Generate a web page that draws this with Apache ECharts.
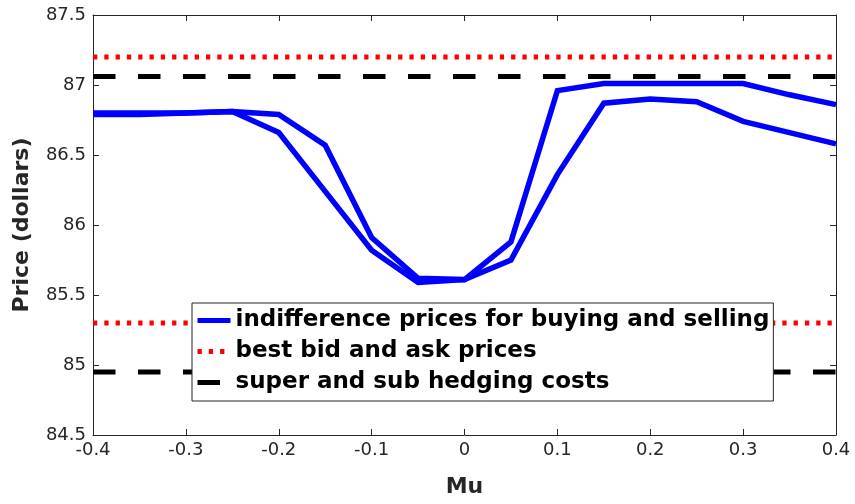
<!DOCTYPE html>
<html><head><meta charset="utf-8">
<script src="https://cdn.jsdelivr.net/npm/echarts@6/dist/echarts.min.js"></script>
<style>html,body{margin:0;padding:0;background:#fff}#c{width:855px;height:504px}</style>
</head><body><div id="c"></div>
<script>
// ---- data ----
const mu = [-0.4, -0.35, -0.3, -0.25, -0.2, -0.15, -0.1, -0.05, 0, 0.05, 0.1, 0.15, 0.2, 0.25, 0.3, 0.35, 0.4];
const priceSelling = [86.80, 86.80, 86.80, 86.81, 86.79, 86.57, 85.91, 85.62, 85.61, 85.88, 86.96, 87.01, 87.01, 87.01, 87.01, 86.93, 86.86];
const priceBuying  = [86.79, 86.79, 86.80, 86.81, 86.66, 86.24, 85.82, 85.59, 85.61, 85.75, 86.36, 86.87, 86.90, 86.88, 86.74, 86.66, 86.58];
const bidAsk = [85.3, 87.2];
const hedging = [84.95, 87.06];
const xTicks = [-0.4, -0.3, -0.2, -0.1, 0, 0.1, 0.2, 0.3, 0.4];
const yTicks = [84.5, 85, 85.5, 86, 86.5, 87, 87.5];
const xStep = 0.1;
const yStep = 0.5;
const names = ['indifference prices for buying and selling', 'best bid and ask prices', 'super and sub hedging costs'];

const xMin = xTicks[0], xMax = xTicks[xTicks.length - 1];
const yMin = yTicks[0], yMax = yTicks[yTicks.length - 1];
const axisCol = '#262626';
const dotted = [4.3, 7];
const dashed = [22.5, 22.5];
const fmt = v => String(parseFloat(Number(v).toFixed(2)));

const blue = (vals) => ({
  name: names[0], type: 'line', symbol: 'none', z: 2,
  data: mu.map((m, i) => [m, vals[i]]),
  lineStyle: { color: '#0000ff', width: 5.5, join: 'miter' }, itemStyle: { color: '#0000ff' }
});
const hline = (v, name, color, type) => ({
  name, type: 'line', symbol: 'none', z: 3,
  data: [[xMin, v], [xMax, v]],
  lineStyle: { color, width: 5, type }, itemStyle: { color }
});

const series = [blue(priceSelling), blue(priceBuying)];
bidAsk.forEach(v => series.push(hline(v, names[1], '#ff0000', dotted)));
hedging.forEach(v => series.push(hline(v, names[2], '#000000', dashed)));

const tickFont = { fontFamily: 'DejaVu Sans', fontSize: 18, color: axisCol };
const nameFont = { fontFamily: 'DejaVu Sans', fontSize: 22, fontWeight: 'bold', color: axisCol };
const xBase = {
  type: 'value', min: xMin, max: xMax, interval: xStep,
  axisLine: { show: true, onZero: false, lineStyle: { color: axisCol, width: 1 } },
  axisTick: { show: true, inside: true, length: 6, lineStyle: { color: axisCol } },
  splitLine: { show: false }
};
const yBase = {
  type: 'value', min: yMin, max: yMax, interval: yStep,
  axisLine: { show: true, onZero: false, lineStyle: { color: axisCol, width: 1 } },
  axisTick: { show: true, inside: true, length: 6, lineStyle: { color: axisCol } },
  splitLine: { show: false }
};

const chart = echarts.init(document.getElementById('c'), null, { renderer: 'canvas' });
chart.setOption({
  animation: false,
  backgroundColor: '#fff',
  grid: { left: 93, right: 19, top: 15, bottom: 69, containLabel: false, outerBoundsMode: 'none' },
  xAxis: [
    Object.assign({}, xBase, { position: 'bottom', name: 'Mu', nameLocation: 'middle', nameGap: 41,
      nameTextStyle: nameFont, axisLabel: Object.assign({ margin: 6, formatter: fmt }, tickFont) }),
    Object.assign({}, xBase, { position: 'top', axisLabel: { show: false } })
  ],
  yAxis: [
    Object.assign({}, yBase, { position: 'left', name: 'Price (dollars)', nameLocation: 'middle', nameGap: 60,
      nameTextStyle: nameFont, axisLabel: Object.assign({ margin: 7, formatter: fmt }, tickFont) }),
    Object.assign({}, yBase, { position: 'right', axisLabel: { show: false } })
  ],
  legend: {
    orient: 'vertical', left: 192, top: 303,
    backgroundColor: '#fff', borderColor: axisCol, borderWidth: 1, borderRadius: 0,
    padding: [6, 4, 7, 3], itemGap: 8, itemWidth: 33, itemHeight: 14,
    textStyle: { fontFamily: 'DejaVu Sans', fontSize: 23, fontWeight: 'bold', color: '#000' },
    itemStyle: { opacity: 0 },
    data: [
      { name: names[0], itemStyle: { opacity: 0 }, lineStyle: { color: '#0000ff', width: 5, type: 'solid' } },
      { name: names[1], itemStyle: { opacity: 0 }, lineStyle: { color: '#ff0000', width: 5, type: dotted } },
      { name: names[2], itemStyle: { opacity: 0 }, lineStyle: { color: '#000000', width: 5, type: dashed } }
    ]
  },
  series
});
</script>
</body></html>
